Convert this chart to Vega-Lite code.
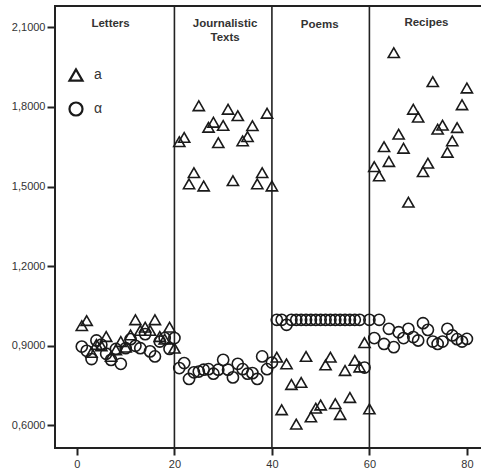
{
  "$schema": "https://vega.github.io/schema/vega-lite/v6.json",
  "width": 427,
  "height": 442,
  "autosize": {"type": "none"},
  "padding": {"left": 55, "top": 6, "right": 0, "bottom": 26},
  "config": {
    "view": {"stroke": "#222", "strokeWidth": 2},
    "font": "Liberation Sans"
  },
  "datasets": {
    "dividers": [{"x": 20}, {"x": 40}, {"x": 60}],
    "labels": [
      {"x": 6.9, "y": 2.113, "t": "Letters"},
      {"x": 30.4, "y": 2.113, "t": "Journalistic"},
      {"x": 30.4, "y": 2.06, "t": "Texts"},
      {"x": 49.8, "y": 2.108, "t": "Poems"},
      {"x": 71.7, "y": 2.115, "t": "Recipes"}
    ],
    "pts": [
      {"i": 1, "s": "a", "v": 0.976}, {"i": 2, "s": "a", "v": 0.995}, {"i": 3, "s": "a", "v": 0.875}, {"i": 4, "s": "a", "v": 0.905},
      {"i": 5, "s": "a", "v": 0.9}, {"i": 6, "s": "a", "v": 0.935}, {"i": 7, "s": "a", "v": 0.86}, {"i": 8, "s": "a", "v": 0.885},
      {"i": 9, "s": "a", "v": 0.916}, {"i": 10, "s": "a", "v": 0.895}, {"i": 11, "s": "a", "v": 0.941}, {"i": 12, "s": "a", "v": 0.998},
      {"i": 13, "s": "a", "v": 0.958}, {"i": 14, "s": "a", "v": 0.97}, {"i": 15, "s": "a", "v": 0.958}, {"i": 16, "s": "a", "v": 0.998},
      {"i": 17, "s": "a", "v": 0.935}, {"i": 18, "s": "a", "v": 0.925}, {"i": 19, "s": "a", "v": 0.97}, {"i": 20, "s": "a", "v": 0.891},
      {"i": 21, "s": "a", "v": 1.669}, {"i": 22, "s": "a", "v": 1.685}, {"i": 23, "s": "a", "v": 1.51}, {"i": 24, "s": "a", "v": 1.552},
      {"i": 25, "s": "a", "v": 1.804}, {"i": 26, "s": "a", "v": 1.502}, {"i": 27, "s": "a", "v": 1.723}, {"i": 28, "s": "a", "v": 1.742},
      {"i": 29, "s": "a", "v": 1.665}, {"i": 30, "s": "a", "v": 1.73}, {"i": 31, "s": "a", "v": 1.791}, {"i": 32, "s": "a", "v": 1.522},
      {"i": 33, "s": "a", "v": 1.767}, {"i": 34, "s": "a", "v": 1.672}, {"i": 35, "s": "a", "v": 1.688}, {"i": 36, "s": "a", "v": 1.729},
      {"i": 37, "s": "a", "v": 1.51}, {"i": 38, "s": "a", "v": 1.552}, {"i": 39, "s": "a", "v": 1.776}, {"i": 40, "s": "a", "v": 1.502},
      {"i": 41, "s": "a", "v": 0.857}, {"i": 42, "s": "a", "v": 0.659}, {"i": 43, "s": "a", "v": 0.832}, {"i": 44, "s": "a", "v": 0.754},
      {"i": 45, "s": "a", "v": 0.605}, {"i": 46, "s": "a", "v": 0.762}, {"i": 47, "s": "a", "v": 0.86}, {"i": 48, "s": "a", "v": 0.632},
      {"i": 49, "s": "a", "v": 0.665}, {"i": 50, "s": "a", "v": 0.677}, {"i": 51, "s": "a", "v": 0.828}, {"i": 52, "s": "a", "v": 0.857},
      {"i": 53, "s": "a", "v": 0.682}, {"i": 54, "s": "a", "v": 0.641}, {"i": 55, "s": "a", "v": 0.807}, {"i": 56, "s": "a", "v": 0.705},
      {"i": 57, "s": "a", "v": 0.845}, {"i": 58, "s": "a", "v": 0.82}, {"i": 59, "s": "a", "v": 0.912}, {"i": 60, "s": "a", "v": 0.662},
      {"i": 61, "s": "a", "v": 1.575}, {"i": 62, "s": "a", "v": 1.54}, {"i": 63, "s": "a", "v": 1.65}, {"i": 64, "s": "a", "v": 1.594},
      {"i": 65, "s": "a", "v": 2.004}, {"i": 66, "s": "a", "v": 1.697}, {"i": 67, "s": "a", "v": 1.644}, {"i": 68, "s": "a", "v": 1.441},
      {"i": 69, "s": "a", "v": 1.791}, {"i": 70, "s": "a", "v": 1.761}, {"i": 71, "s": "a", "v": 1.556}, {"i": 72, "s": "a", "v": 1.588},
      {"i": 73, "s": "a", "v": 1.895}, {"i": 74, "s": "a", "v": 1.716}, {"i": 75, "s": "a", "v": 1.731}, {"i": 76, "s": "a", "v": 1.629},
      {"i": 77, "s": "a", "v": 1.672}, {"i": 78, "s": "a", "v": 1.722}, {"i": 79, "s": "a", "v": 1.808}, {"i": 80, "s": "a", "v": 1.871},
      {"i": 1, "s": "α", "v": 0.897}, {"i": 2, "s": "α", "v": 0.881}, {"i": 3, "s": "α", "v": 0.85}, {"i": 4, "s": "α", "v": 0.92},
      {"i": 5, "s": "α", "v": 0.904}, {"i": 6, "s": "α", "v": 0.87}, {"i": 7, "s": "α", "v": 0.847}, {"i": 8, "s": "α", "v": 0.888},
      {"i": 9, "s": "α", "v": 0.832}, {"i": 10, "s": "α", "v": 0.891}, {"i": 11, "s": "α", "v": 0.925}, {"i": 12, "s": "α", "v": 0.9},
      {"i": 13, "s": "α", "v": 0.891}, {"i": 14, "s": "α", "v": 0.944}, {"i": 15, "s": "α", "v": 0.879}, {"i": 16, "s": "α", "v": 0.86},
      {"i": 17, "s": "α", "v": 0.916}, {"i": 18, "s": "α", "v": 0.929}, {"i": 19, "s": "α", "v": 0.888}, {"i": 20, "s": "α", "v": 0.929},
      {"i": 21, "s": "α", "v": 0.816}, {"i": 22, "s": "α", "v": 0.835}, {"i": 23, "s": "α", "v": 0.775}, {"i": 24, "s": "α", "v": 0.8},
      {"i": 25, "s": "α", "v": 0.803}, {"i": 26, "s": "α", "v": 0.81}, {"i": 27, "s": "α", "v": 0.812}, {"i": 28, "s": "α", "v": 0.795},
      {"i": 29, "s": "α", "v": 0.81}, {"i": 30, "s": "α", "v": 0.847}, {"i": 31, "s": "α", "v": 0.81}, {"i": 32, "s": "α", "v": 0.781},
      {"i": 33, "s": "α", "v": 0.832}, {"i": 34, "s": "α", "v": 0.812}, {"i": 35, "s": "α", "v": 0.795}, {"i": 36, "s": "α", "v": 0.797},
      {"i": 37, "s": "α", "v": 0.775}, {"i": 38, "s": "α", "v": 0.86}, {"i": 39, "s": "α", "v": 0.812}, {"i": 40, "s": "α", "v": 0.837},
      {"i": 41, "s": "α", "v": 0.998}, {"i": 42, "s": "α", "v": 0.998}, {"i": 43, "s": "α", "v": 0.979}, {"i": 44, "s": "α", "v": 0.998},
      {"i": 45, "s": "α", "v": 0.998}, {"i": 46, "s": "α", "v": 0.998}, {"i": 47, "s": "α", "v": 0.998}, {"i": 48, "s": "α", "v": 0.998},
      {"i": 49, "s": "α", "v": 0.998}, {"i": 50, "s": "α", "v": 0.998}, {"i": 51, "s": "α", "v": 0.998}, {"i": 52, "s": "α", "v": 0.998},
      {"i": 53, "s": "α", "v": 0.998}, {"i": 54, "s": "α", "v": 0.998}, {"i": 55, "s": "α", "v": 0.998}, {"i": 56, "s": "α", "v": 0.998},
      {"i": 57, "s": "α", "v": 0.998}, {"i": 58, "s": "α", "v": 0.998}, {"i": 59, "s": "α", "v": 0.818}, {"i": 60, "s": "α", "v": 0.998},
      {"i": 61, "s": "α", "v": 0.929}, {"i": 62, "s": "α", "v": 0.998}, {"i": 63, "s": "α", "v": 0.907}, {"i": 64, "s": "α", "v": 0.964},
      {"i": 65, "s": "α", "v": 0.895}, {"i": 66, "s": "α", "v": 0.951}, {"i": 67, "s": "α", "v": 0.929}, {"i": 68, "s": "α", "v": 0.964},
      {"i": 69, "s": "α", "v": 0.933}, {"i": 70, "s": "α", "v": 0.92}, {"i": 71, "s": "α", "v": 0.985}, {"i": 72, "s": "α", "v": 0.96},
      {"i": 73, "s": "α", "v": 0.916}, {"i": 74, "s": "α", "v": 0.907}, {"i": 75, "s": "α", "v": 0.916}, {"i": 76, "s": "α", "v": 0.964},
      {"i": 77, "s": "α", "v": 0.939}, {"i": 78, "s": "α", "v": 0.925}, {"i": 79, "s": "α", "v": 0.916}, {"i": 80, "s": "α", "v": 0.926}
    ]
  },
  "layer": [
    {
      "data": {"name": "dividers"},
      "mark": {"type": "rule", "color": "#222", "strokeWidth": 1.6},
      "encoding": {
        "x": {"field": "x", "type": "quantitative", "scale": {"domain": [-4.5, 83.1], "nice": false, "zero": false}}
      }
    },
    {
      "data": {"name": "pts"},
      "mark": {"type": "point", "filled": false, "stroke": "#1a1a1a", "strokeWidth": 1.6, "opacity": 1, "size": 125},
      "encoding": {
        "x": {
          "field": "i", "type": "quantitative",
          "scale": {"domain": [-4.5, 83.1], "nice": false, "zero": false},
          "axis": {"values": [0, 20, 40, 60, 80], "title": null, "grid": false, "domain": false,
                   "tickColor": "#222", "tickWidth": 2, "tickSize": 7, "labelFontSize": 11, "labelColor": "#333", "labelPadding": 3}
        },
        "y": {
          "field": "v", "type": "quantitative",
          "scale": {"domain": [0.515, 2.18], "nice": false, "zero": false},
          "axis": {"values": [0.6, 0.9, 1.2, 1.5, 1.8, 2.1], "title": null, "grid": false, "domain": false,
                   "labelExpr": "replace(format(datum.value, '.4f'), '.', ',')",
                   "tickColor": "#222", "tickWidth": 2, "tickSize": 8, "labelFontSize": 11, "labelColor": "#333", "labelPadding": 2}
        },
        "shape": {
          "field": "s", "type": "nominal",
          "scale": {"domain": ["a", "α"], "range": ["triangle-up", "circle"]},
          "legend": {"orient": "none", "legendX": 13, "legendY": 61, "title": null, "padding": 0,
                     "symbolSize": 170, "symbolStrokeWidth": 2.2, "symbolStrokeColor": "#1a1a1a", "symbolFillColor": "transparent",
                     "labelFontSize": 14, "labelColor": "#333", "labelOffset": 10, "rowPadding": 12}
        }
      }
    },
    {
      "data": {"name": "labels"},
      "mark": {"type": "text", "fontWeight": "bold", "fontSize": 11.5, "color": "#333", "baseline": "middle", "align": "center"},
      "encoding": {
        "x": {"field": "x", "type": "quantitative"},
        "y": {"field": "y", "type": "quantitative"},
        "text": {"field": "t"}
      }
    }
  ]
}
